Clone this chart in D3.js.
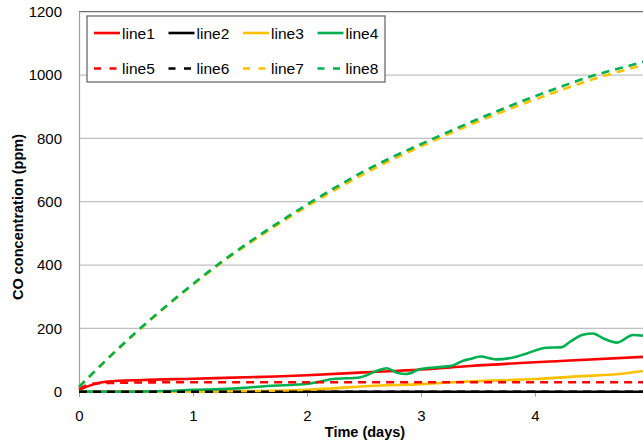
<!DOCTYPE html>
<html>
<head>
<meta charset="utf-8">
<script src="https://cdn.jsdelivr.net/npm/d3@7"></script>
<style>
  html, body { margin: 0; padding: 0; background: #fff; }
  svg { display: block; }
  text { font-family: "Liberation Sans", Arial, sans-serif; fill: #000; }
</style>
</head>
<body>
<svg id="chart" width="643" height="443"></svg>
<script>
// ---- data (time in days, CO in ppm) ----
const seriesNames = ["line1","line2","line3","line4","line5","line6","line7","line8"];
const seriesColors = ["#ff0000","#000000","#ffc000","#00b050","#ff0000","#000000","#ffc000","#00b050"];
const seriesDashed = [false,false,false,false,true,true,true,true];

const line1 = [[0,5],[0.1,20],[0.25,32],[0.55,37],[1.0,41],[1.72,48],[2.0,52],[2.5,61],[3.0,70],[3.43,81],[4.22,97],[5.0,111]];
const line2 = [[0,0],[1,0],[2,0],[3,0],[4,0],[5,0]];
const line3 = [[0,0],[1.0,0],[1.5,2],[1.7,3],[2.0,6],[2.2,10],[2.55,18],[3.0,24],[3.4,32],[4.0,40],[4.45,50],[4.72,55],[5.0,68]];
const line4 = [[0,0],[0.5,0],[0.75,2],[1.0,6],[1.25,8],[1.45,12],[1.65,18],[1.85,21],[2.03,26],[2.23,40],[2.46,45],[2.61,65],[2.70,74],[2.79,60],[2.87,56],[2.99,71],[3.14,77],[3.27,82],[3.37,98],[3.43,103],[3.52,111],[3.66,102],[3.81,108],[3.93,121],[4.10,139],[4.23,140],[4.31,158],[4.42,180],[4.51,184],[4.60,168],[4.72,155],[4.86,179],[5.0,175]];
const line5 = [[0,10],[0.14,26],[0.5,29],[1.0,30],[2.0,30],[3.0,30],[4.0,30],[5.0,30]];
const line6 = [[0,0],[1,0],[2,0],[3,0],[4,0],[5,0]];
const line7 = [[0,15],[0.25,103],[0.5,186],[0.75,264],[1.0,338],[1.25,407],[1.5,470],[1.75,529],[2.0,585],[2.25,638],[2.5,688],[2.75,733],[3.0,775],[3.25,815],[3.5,853],[3.75,889],[4.0,923],[4.25,955],[4.5,986],[4.75,1012],[5.0,1036]];
const line8 = [[0,15],[0.25,104],[0.5,188],[0.75,266],[1.0,340],[1.25,410],[1.5,474],[1.75,534],[2.0,591],[2.25,645],[2.5,696],[2.75,741],[3.0,782],[3.25,822],[3.5,861],[3.75,898],[4.0,933],[4.25,966],[4.5,997],[4.75,1022],[5.0,1046]];
const seriesData = [line1,line2,line3,line4,line5,line6,line7,line8];

const xTicks = [0,1,2,3,4];
const yTicks = [0,200,400,600,800,1000,1200];
const xTitle = "Time (days)";
const yTitle = "CO concentration (ppm)";

// ---- layout ----
const svg = d3.select("#chart");
const x = d3.scaleLinear().domain([0,5]).range([79,649]);
const y = d3.scaleLinear().domain([0,1200]).range([391.7,11.7]);

// gridlines
svg.append("g").selectAll("line").data(yTicks.filter(d => d > 0)).join("line")
  .attr("x1", x(0)).attr("x2", 643)
  .attr("y1", d => y(d)).attr("y2", d => y(d))
  .attr("stroke", d => d === 1200 ? "#707070" : "#c0c0c0")
  .attr("stroke-width", d => d === 1200 ? 1.3 : 1.2);

// y axis
const yAxis = d3.axisLeft(y).tickValues(yTicks).tickSize(0).tickPadding(17).tickFormat(d3.format("d"));
const gy = svg.append("g").attr("transform", `translate(${x(0)},0)`).call(yAxis);
gy.select(".domain").attr("stroke", "#a0a0a0").attr("stroke-width", 1.2);
gy.selectAll("text").style("font-size", "15px").style("font-family", "Liberation Sans, Arial, sans-serif").attr("fill", "#000");

// x axis
const xAxis = d3.axisBottom(x).tickValues(xTicks).tickSize(5).tickPadding(14).tickFormat(d3.format("d"));
const gx = svg.append("g").attr("transform", `translate(0,${y(0)})`).call(xAxis);
gx.select(".domain").attr("stroke", "#a0a0a0");
gx.selectAll(".tick line").attr("stroke", "#a0a0a0");
gx.selectAll("text").style("font-size", "15px").style("font-family", "Liberation Sans, Arial, sans-serif").attr("fill", "#000");

// lines
const lineGen = d3.line().x(d => x(d[0])).y(d => y(d[1])).curve(d3.curveMonotoneX);
const gl = svg.append("g");
seriesData.forEach((data, i) => {
  gl.append("path")
    .datum(data)
    .attr("d", lineGen)
    .attr("fill", "none")
    .attr("stroke", seriesColors[i])
    .attr("stroke-width", 2.6)
    .attr("stroke-linejoin", "round")
    .attr("stroke-dasharray", seriesDashed[i] ? "8,6" : null);
});

// axis titles
svg.append("text")
  .attr("x", 365).attr("y", 437)
  .attr("text-anchor", "middle")
  .style("font-size", "14.5px").style("font-weight", "bold")
  .text(xTitle);
svg.append("text")
  .attr("transform", "translate(23,217) rotate(-90)")
  .attr("text-anchor", "middle")
  .style("font-size", "14.5px").style("font-weight", "bold")
  .text(yTitle);

// legend
const lg = svg.append("g");
lg.append("rect").attr("x", 87).attr("y", 16).attr("width", 298).attr("height", 66)
  .attr("fill", "#fff").attr("stroke", "#606060").attr("stroke-width", 1.2);
const colX = [94, 168.5, 243, 317.5];
const rowY = [33, 68.5];
seriesNames.forEach((name, i) => {
  const cx = colX[i % 4], cy = rowY[Math.floor(i / 4)];
  lg.append("line").attr("x1", cx).attr("x2", cx + 26).attr("y1", cy).attr("y2", cy)
    .attr("stroke", seriesColors[i]).attr("stroke-width", 2.6)
    .attr("stroke-dasharray", seriesDashed[i] ? "7,8.5" : null);
  lg.append("text").attr("x", cx + 28).attr("y", cy + 5.5)
    .style("font-size", "15.5px").text(name);
});
</script>
</body>
</html>
